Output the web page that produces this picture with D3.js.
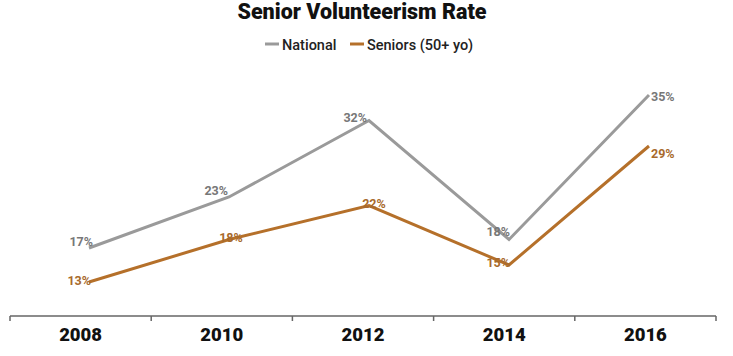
<!DOCTYPE html>
<html><head><meta charset="utf-8">
<script src="https://cdn.jsdelivr.net/npm/d3@7"></script>
<style>
body{margin:0;background:#fff;}
text{font-family:Roboto,"Liberation Sans",sans-serif;}
</style></head>
<body>
<svg id="c" width="733" height="356"></svg>
<script>
const years = ["2008","2010","2012","2014","2016"];
const national = [17,23,32,18,35];
const seniors = [13,18,22,15,29];
const seriesNames = ["National","Seniors (50+ yo)"];
const titleText = "Senior Volunteerism Rate";

const colors = {National:"#9a9a9a", Seniors:"#b5702a"};
const labelColors = {National:"#777777", Seniors:"#a86a2c"};

const svg = d3.select("#c");

const xBand = d3.scaleBand().domain(years).range([10,716]);
const xPt = d3.scalePoint().domain(years).range([89,649]);
const y = d3.scaleLinear().domain([0,35]).range([392.5,95]);

svg.append("text").attr("x",362).attr("y",19).attr("text-anchor","middle")
  .attr("font-size",21.5).attr("font-weight",900).attr("fill","#111").text(titleText);

const leg = [{n:seriesNames[0],c:colors.National,x:265},{n:seriesNames[1],c:colors.Seniors,x:350}];
leg.forEach(l=>{
  svg.append("line").attr("x1",l.x).attr("x2",l.x+14).attr("y1",44).attr("y2",44)
    .attr("stroke",l.c).attr("stroke-width",3);
  svg.append("text").attr("x",l.x+17).attr("y",49.5).attr("font-size",14.5)
    .attr("font-weight",500).attr("fill","#222").text(l.n);
});

const axisG = svg.append("g").attr("transform","translate(0,316)");
axisG.append("line").attr("x1",10).attr("x2",716).attr("stroke","#666").attr("stroke-width",1.5);
const ticks = years.map(d=>xBand(d)).concat([xBand.range()[1]]);
axisG.selectAll("line.t").data(ticks).join("line").attr("class","t")
  .attr("x1",d=>d).attr("x2",d=>d).attr("y1",0).attr("y2",5)
  .attr("stroke","#666").attr("stroke-width",1.5);
axisG.selectAll("text").data(years).join("text")
  .attr("x",d=>xBand(d)+xBand.bandwidth()/2).attr("y",24.5)
  .attr("text-anchor","middle").attr("font-size",18.5).attr("font-weight",900)
  .attr("fill","#111").text(d=>d);

const line = d3.line().x((d,i)=>xPt(years[i])).y(d=>y(d));

function drawSeries(vals, key, labelPos){
  svg.append("path").datum(vals).attr("d",line).attr("fill","none")
    .attr("stroke",colors[key]).attr("stroke-width",3).attr("stroke-linejoin","miter");
  svg.selectAll("text.l"+key).data(vals).join("text").attr("class","l"+key)
    .attr("x",(d,i)=>xPt(years[i])+labelPos[i][0])
    .attr("y",(d,i)=>y(d)+labelPos[i][1])
    .attr("text-anchor",(d,i)=>labelPos[i][2])
    .attr("font-size",12.5).attr("font-weight",700)
    .attr("fill",labelColors[key]).text(d=>d+"%");
}
drawSeries(national,"National",[[4,-2,"end"],[-1,-2,"end"],[-2,1,"end"],[1,-4,"end"],[2,6,"start"]]);
drawSeries(seniors,"Seniors",[[2,3,"end"],[2,2,"middle"],[5,2,"middle"],[1,2,"end"],[2,12,"start"]]);
</script>
</body></html>
